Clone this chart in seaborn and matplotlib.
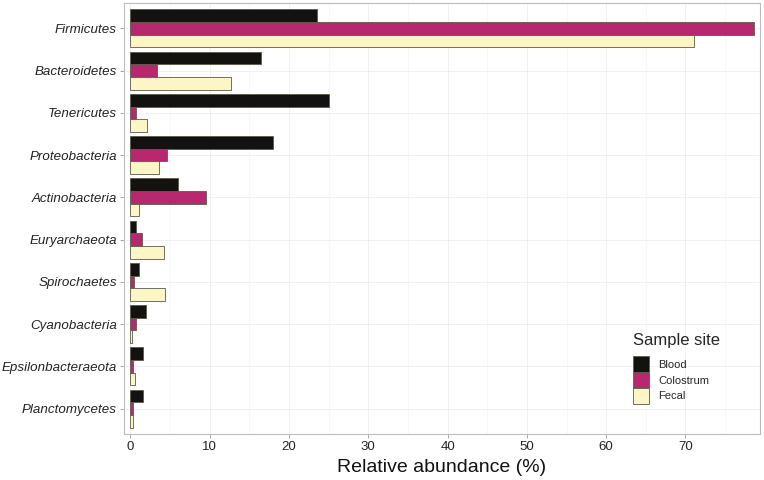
import pandas as pd
import matplotlib.pyplot as plt
import matplotlib.patches as mpatches
from matplotlib.ticker import MultipleLocator
import seaborn as sns

# Data
phyla = ['Firmicutes', 'Bacteroidetes', 'Tenericutes', 'Proteobacteria', 'Actinobacteria',
         'Euryarchaeota', 'Spirochaetes', 'Cyanobacteria', 'Epsilonbacteraeota', 'Planctomycetes']
sites = ['Blood', 'Colostrum', 'Fecal']
blood = [23.5, 16.5, 25.0, 17.95, 6.05, 0.67, 1.1, 1.98, 1.55, 1.6]
colostrum = [78.7, 3.4, 0.76, 4.6, 9.6, 1.43, 0.42, 0.76, 0.3, 0.38]
fecal = [71.1, 12.65, 2.1, 3.65, 1.05, 4.25, 4.4, 0.25, 0.55, 0.33]
site_colors = ['#141210', '#B8286E', '#FCF5C6']

df = pd.DataFrame({
    'phylum': phyla * 3,
    'site': [s for s in sites for _ in phyla],
    'value': blood + colostrum + fecal,
})

sns.set_style('white')
plt.rcParams['font.family'] = ['Liberation Sans', 'DejaVu Sans']

fig = plt.figure(figsize=(7.64, 4.8), dpi=100)
ax = fig.add_axes([0.1623, 0.0958, 0.8325, 0.898])

sns.barplot(data=df, y='phylum', x='value', hue='site', order=phyla, hue_order=sites,
            palette=site_colors, saturation=1, orient='h', width=0.9,
            edgecolor='#5a5a4a', linewidth=0.6, ax=ax, legend=False, zorder=3)

ax.set_xlim(-0.8, 79.4)
ax.set_ylim(9.6, -0.6)
ax.xaxis.set_major_locator(MultipleLocator(10))
ax.xaxis.set_minor_locator(MultipleLocator(5))
ax.grid(True, which='major', color='#ececec', linewidth=0.5, zorder=0)
ax.grid(True, which='minor', axis='x', color='#f4f4f4', linewidth=0.4, zorder=0)
ax.set_axisbelow(True)

for s in ax.spines.values():
    s.set_color('#bdbdbd')
    s.set_linewidth(0.8)

ax.tick_params(axis='both', which='major', length=3, width=0.6, color='#999999',
               bottom=True, left=True, pad=2)
ax.tick_params(axis='x', which='minor', length=0)
ax.tick_params(axis='x', labelsize=9.5, labelcolor='#222222')
ax.tick_params(axis='y', labelsize=9.6, labelcolor='#222222')
for lab in ax.get_yticklabels():
    lab.set_fontstyle('italic')

ax.set_ylabel('')
ax.set_xlabel('Relative abundance (%)', fontsize=14, color='#111111', labelpad=4)

handles = [mpatches.Patch(facecolor=c, edgecolor='#5a5a4a', linewidth=0.6, label=s)
           for s, c in zip(sites, site_colors)]
leg = ax.legend(handles=handles, title='Sample site', loc='upper left',
                bbox_to_anchor=(0.8285, 0.306), bbox_transform=fig.transFigure,
                frameon=False, fontsize=8, title_fontsize=12,
                handlelength=1.45, handleheight=1.8, handletextpad=0.8,
                labelspacing=0.0, borderaxespad=0, borderpad=0)
leg._legend_box.align = 'left'
leg._legend_box.sep = 6

fig.savefig('out.png', dpi=100)
